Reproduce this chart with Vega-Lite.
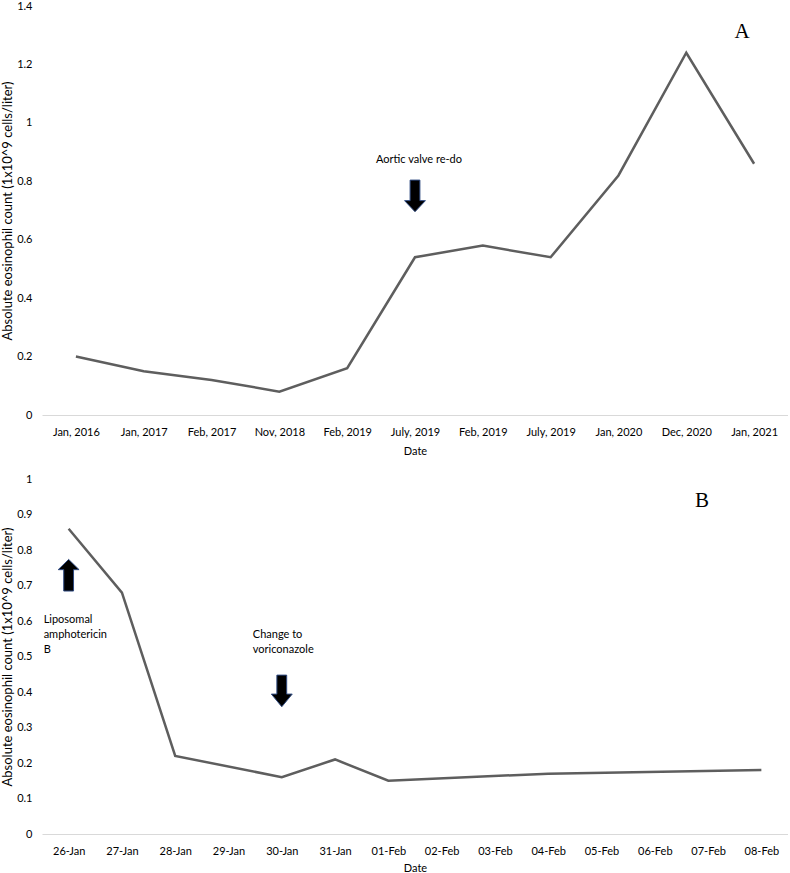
{
  "$schema": "https://vega.github.io/schema/vega-lite/v6.json",
  "padding": {"left": 1, "top": 0, "right": 0, "bottom": 0},
  "background": "white",
  "config": {
    "view": {"stroke": null},
    "font": "Lato",
    "axis": {"labelFont": "Lato", "titleFont": "Lato", "labelFontSize": 11, "titleFontSize": 11, "labelColor": "#000000", "titleColor": "#000000", "titleFontWeight": "normal", "grid": false, "ticks": false},
    "concat": {"spacing": 17}
  },
  "datasets": {
    "a": [
      {"date": "Jan, 2016", "value": 0.2},
      {"date": "Jan, 2017", "value": 0.15},
      {"date": "Feb, 2017", "value": 0.12},
      {"date": "Nov, 2018", "value": 0.08},
      {"date": "Feb, 2019", "value": 0.16},
      {"date": "July, 2019", "value": 0.54},
      {"date": "Feb, 2019 ", "value": 0.58},
      {"date": "July, 2019 ", "value": 0.54},
      {"date": "Jan, 2020", "value": 0.82},
      {"date": "Dec, 2020", "value": 1.24},
      {"date": "Jan,  2021", "value": 0.86}
    ],
    "b": [
      {"date": "26-Jan", "value": 0.86},
      {"date": "27-Jan", "value": 0.68},
      {"date": "28-Jan", "value": 0.22},
      {"date": "30-Jan", "value": 0.16},
      {"date": "31-Jan", "value": 0.21},
      {"date": "01-Feb", "value": 0.15},
      {"date": "04-Feb", "value": 0.17},
      {"date": "08-Feb", "value": 0.18}
    ]
  },
  "vconcat": [
    {
      "width": 746,
      "height": 409,
      "encoding": {
        "x": {"field": "date", "type": "ordinal", "sort": null,
          "scale": {"domain": ["Jan, 2016", "Jan, 2017", "Feb, 2017", "Nov, 2018", "Feb, 2019", "July, 2019", "Feb, 2019 ", "July, 2019 ", "Jan, 2020", "Dec, 2020", "Jan,  2021"], "type": "point", "padding": 0.5},
          "axis": {"title": "Date", "labelAngle": 0, "domainColor": "#d9d9d9", "domainWidth": 1, "labelPadding": 11, "titlePadding": 8}},
        "y": {"field": "value", "type": "quantitative",
          "scale": {"domain": [0, 1.4], "nice": false},
          "axis": {"title": "Absolute eosinophil count (1x10^9 cells/liter)", "titleFontSize": 13, "values": [0, 0.2, 0.4, 0.6, 0.8, 1, 1.2, 1.4], "format": "~g", "domain": false, "labelPadding": 10, "titlePadding": 2}}
      },
      "layer": [
        {"data": {"name": "a"}, "mark": {"type": "line", "color": "#5e5e5e", "strokeWidth": 2.5}},
        {"data": {"values": [{"date": "July, 2019", "value": 0.75}]},
          "mark": {"type": "point", "shape": "M-0.31,-1 L0.31,-1 L0.31,0.3 L0.66,0.3 L0,1 L-0.66,0.3 L-0.31,0.3 Z", "size": 1000, "filled": true, "fill": "#000000", "stroke": "#2f4a80", "strokeWidth": 1, "opacity": 1}},
        {"data": {"values": [{"date": "July, 2019", "value": 0.873, "label": "Aortic valve re-do"}]},
          "mark": {"type": "text", "fontSize": 11, "font": "Lato", "color": "#000000", "dx": 4},
          "encoding": {"text": {"field": "label"}}},
        {"data": {"values": [{"date": "Jan,  2021", "value": 1.31, "label": "A"}]},
          "mark": {"type": "text", "fontSize": 21, "font": "Liberation Serif", "color": "#000000", "dx": -12},
          "encoding": {"text": {"field": "label"}}}
      ]
    },
    {
      "width": 746,
      "height": 355,
      "encoding": {
        "x": {"field": "date", "type": "ordinal", "sort": null,
          "scale": {"domain": ["26-Jan", "27-Jan", "28-Jan", "29-Jan", "30-Jan", "31-Jan", "01-Feb", "02-Feb", "03-Feb", "04-Feb", "05-Feb", "06-Feb", "07-Feb", "08-Feb"], "type": "point", "padding": 0.5},
          "axis": {"title": "Date", "labelAngle": 0, "domainColor": "#d9d9d9", "domainWidth": 1, "labelPadding": 11, "titlePadding": 6}},
        "y": {"field": "value", "type": "quantitative",
          "scale": {"domain": [0, 1], "nice": false},
          "axis": {"title": "Absolute eosinophil count (1x10^9 cells/liter)", "titleFontSize": 13, "values": [0, 0.1, 0.2, 0.3, 0.4, 0.5, 0.6, 0.7, 0.8, 0.9, 1], "format": "~g", "domain": false, "labelPadding": 10, "titlePadding": 2}}
      },
      "layer": [
        {"data": {"name": "b"}, "mark": {"type": "line", "color": "#5e5e5e", "strokeWidth": 2.5}},
        {"data": {"values": [{"date": "26-Jan", "value": 0.729}]},
          "mark": {"type": "point", "shape": "M-0.31,1 L0.31,1 L0.31,-0.35 L0.66,-0.35 L0,-1 L-0.66,-0.35 L-0.31,-0.35 Z", "size": 1000, "filled": true, "fill": "#000000", "stroke": "#2f4a80", "strokeWidth": 1, "opacity": 1}},
        {"data": {"values": [{"date": "30-Jan", "value": 0.403}]},
          "mark": {"type": "point", "shape": "M-0.31,-1 L0.31,-1 L0.31,0.2 L0.66,0.2 L0,1 L-0.66,0.2 L-0.31,0.2 Z", "size": 1000, "filled": true, "fill": "#000000", "stroke": "#2f4a80", "strokeWidth": 1, "opacity": 1}},
        {"data": {"values": [{"date": "26-Jan", "value": 0.62, "label": "Liposomal\namphotericin\nB"}]},
          "mark": {"type": "text", "fontSize": 11, "font": "Lato", "color": "#000000", "align": "left", "baseline": "top", "lineBreak": "\n", "lineHeight": 15, "dx": -25},
          "encoding": {"text": {"field": "label"}}},
        {"data": {"values": [{"date": "30-Jan", "value": 0.577, "label": "Change to\nvoriconazole"}]},
          "mark": {"type": "text", "fontSize": 11, "font": "Lato", "color": "#000000", "align": "left", "baseline": "top", "lineBreak": "\n", "lineHeight": 15, "dx": -29},
          "encoding": {"text": {"field": "label"}}},
        {"data": {"values": [{"date": "07-Feb", "value": 0.937, "label": "B"}]},
          "mark": {"type": "text", "fontSize": 21, "font": "Liberation Serif", "color": "#000000", "dx": -6},
          "encoding": {"text": {"field": "label"}}}
      ]
    }
  ]
}
